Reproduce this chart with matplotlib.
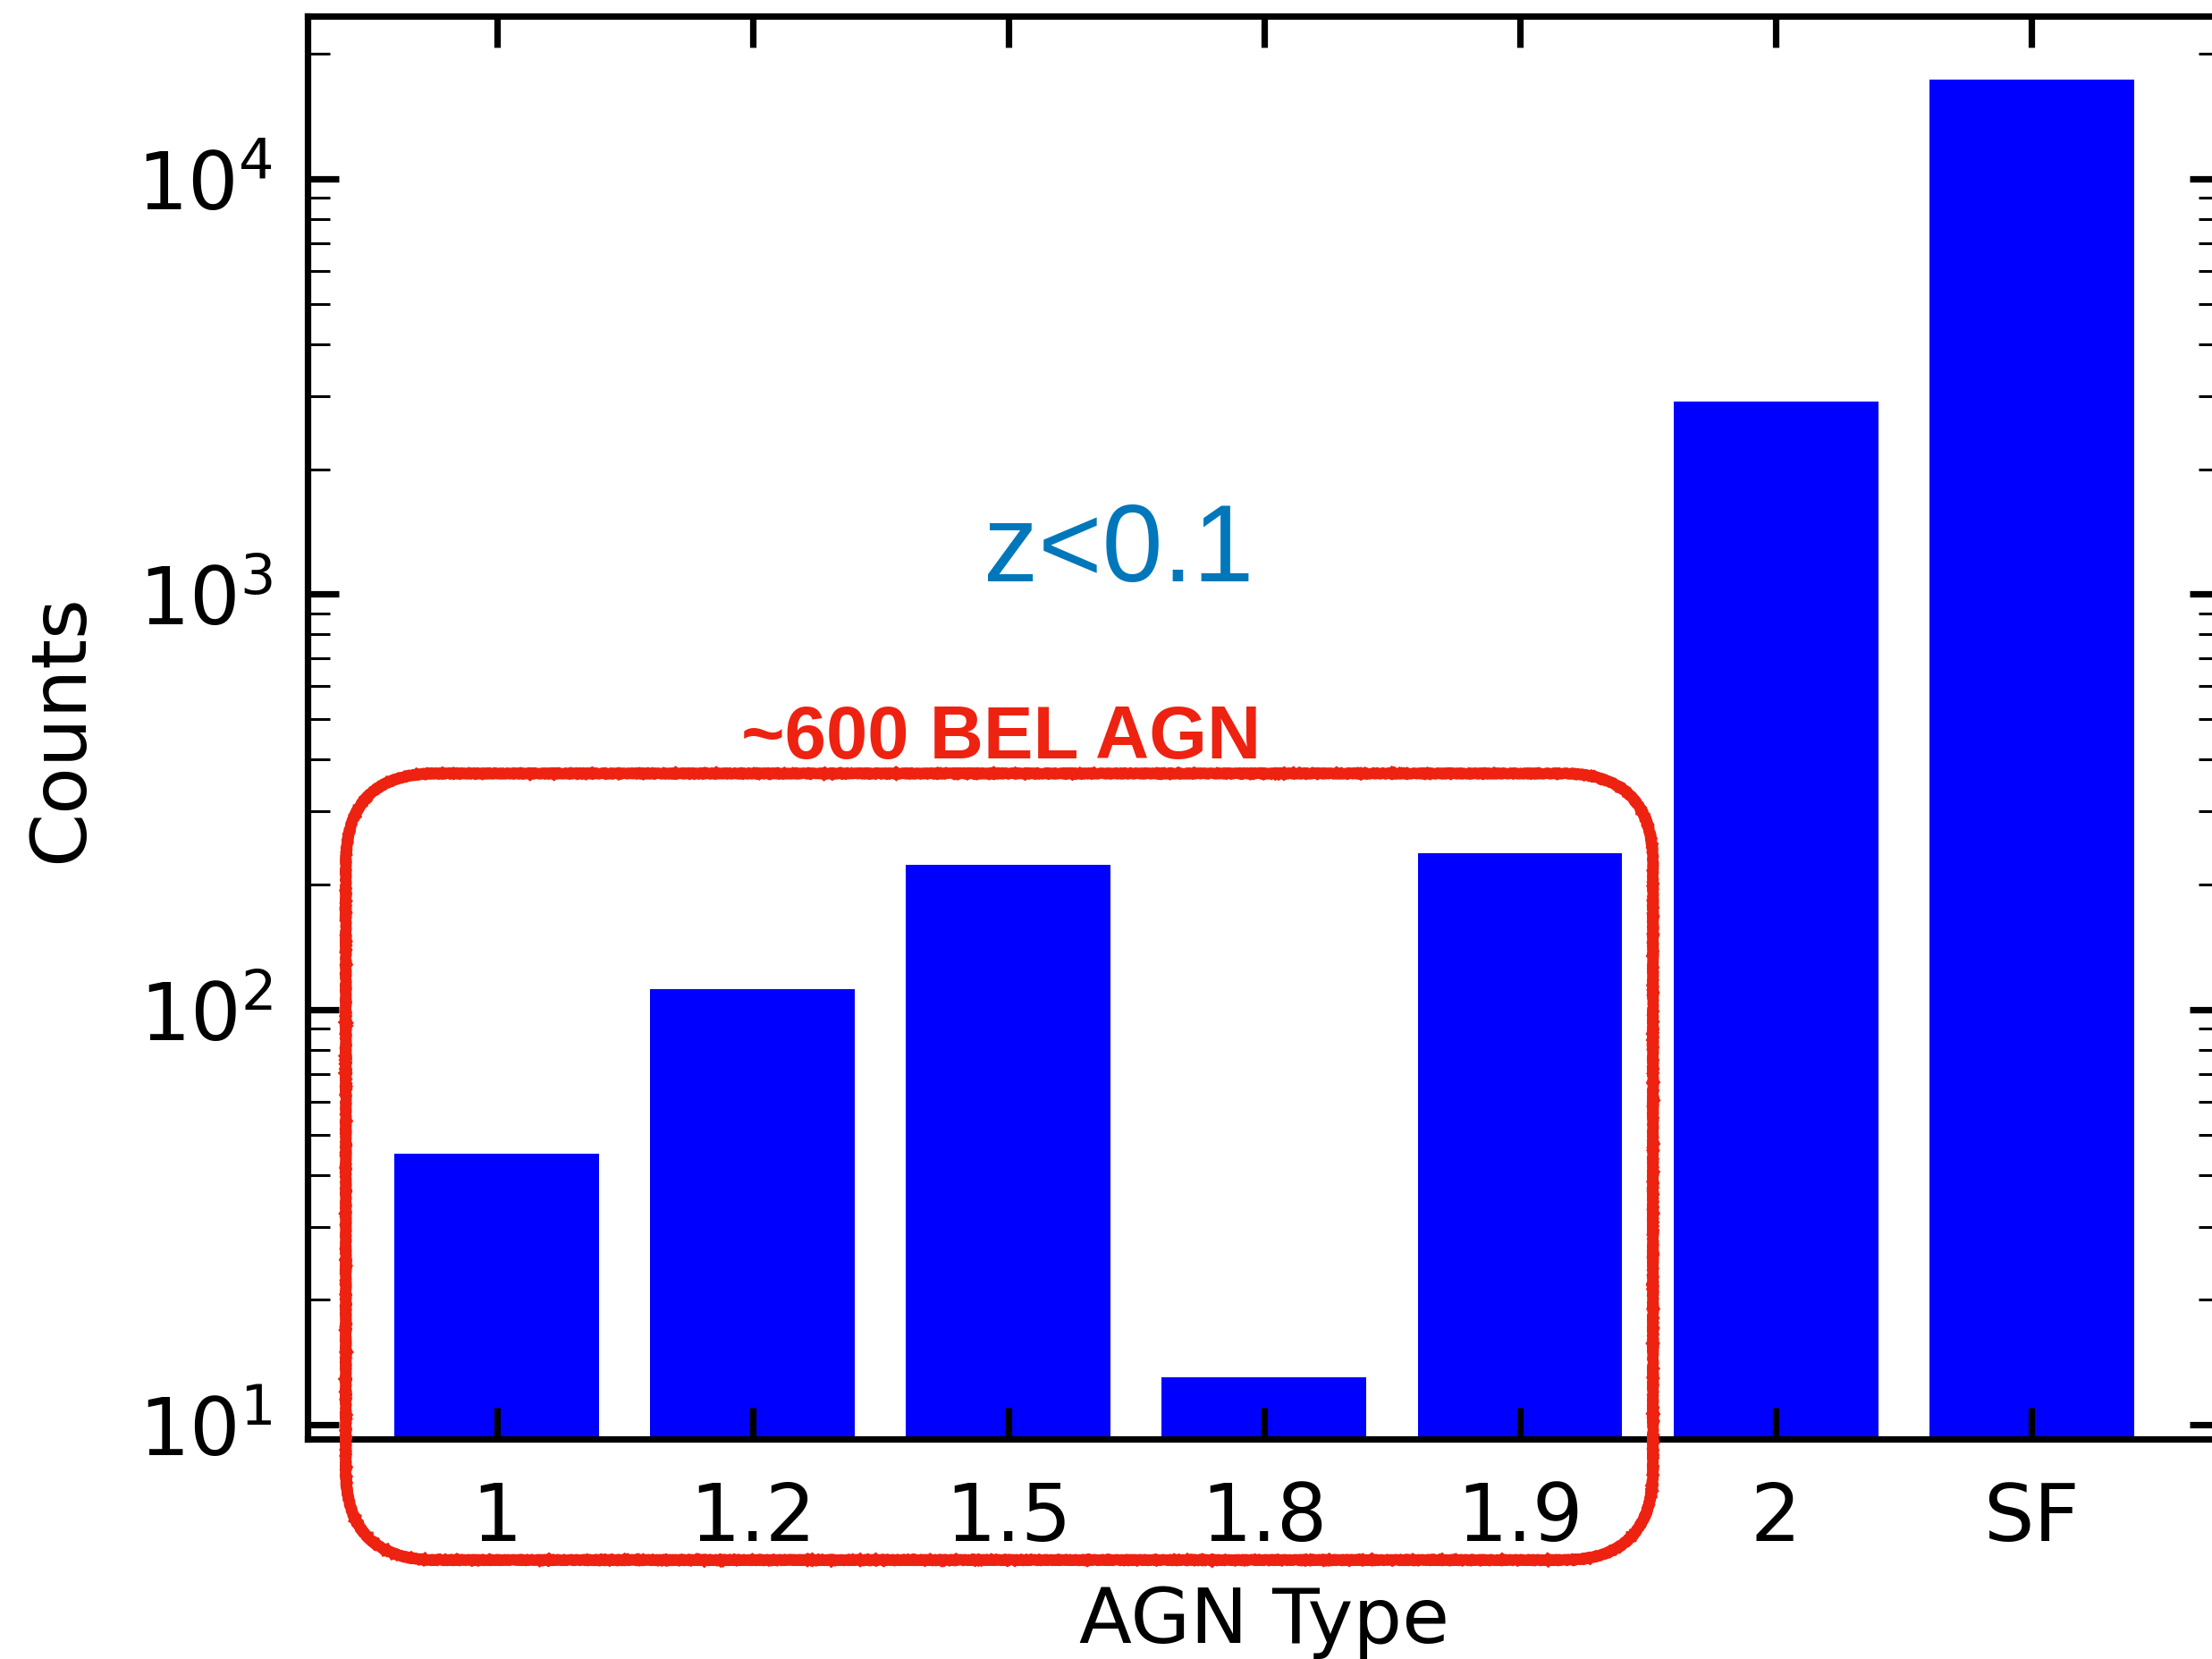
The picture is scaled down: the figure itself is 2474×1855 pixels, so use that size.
import matplotlib as mpl
mpl.use('Agg')
import matplotlib.pyplot as plt
from matplotlib.patches import FancyBboxPatch
import numpy as np

# data
agn_types = ['1', '1.2', '1.5', '1.8', '1.9', '2', 'SF']
counts = [45, 112, 223, 13, 238, 2905, 17340]
bel_types = ['1', '1.2', '1.5', '1.8', '1.9']

fig = plt.figure(figsize=(12.37, 9.28), dpi=200)
ax = fig.add_axes([0.139, 0.1325, 0.865, 0.8573])

x = np.arange(len(agn_types))
ax.bar(x, counts, width=0.8, color='#0000ff', log=True)
ax.set_yscale('log')
ax.set_xlim(-0.74, 6.74)
ax.set_ylim(9.24, 24660)

ax.set_xticks(x)
ax.set_xticklabels(agn_types)
ax.minorticks_on()
ax.xaxis.set_minor_locator(mpl.ticker.NullLocator())

for s in ax.spines.values():
    s.set_linewidth(2.6)
ax.tick_params(which='both', direction='in', top=True, right=True)
ax.tick_params(which='major', length=12.6, width=2.6, labelsize=32)
ax.tick_params(axis='y', which='major', pad=14)
ax.tick_params(axis='x', which='major', pad=16)
ax.tick_params(which='minor', length=9, width=1.1)

ax.set_xlabel('AGN Type', fontsize=31)
ax.set_ylabel('Counts', fontsize=31)
ax.xaxis.set_label_coords(0.5, -0.102)
ax.yaxis.set_label_coords(-0.109, 0.5)

ax.text(2.43, 1080, 'z<0.1', color='#0077bb', fontsize=44,
        family='Liberation Sans', ha='center', va='baseline')
ax.text(1.97, 405, '~%d BEL AGN' % 600, color='#ee2211', fontsize=30,
        family='Liberation Sans', weight='bold', ha='center', va='baseline')

# rounded hand-drawn box around the broad-line types, drawn in pixels
fig.canvas.draw()
i0 = agn_types.index(bel_types[0])
i1 = agn_types.index(bel_types[-1])
px0, py1 = ax.transData.transform((i0 - 0.59, 370))
px1, _ = ax.transData.transform((i1 + 0.52, 370))
_, py0 = ax.transAxes.transform((0, -0.085))
for lw, sk in [(4.5, (0.5, 6, 3)), (2.5, (0.9, 4, 2)), (1.5, (1.2, 3, 4))]:
    box = FancyBboxPatch((px0, py0), px1 - px0, py1 - py0,
                         boxstyle='round,pad=0,rounding_size=100',
                         transform=None, fill=False, edgecolor='#ee2211',
                         linewidth=lw, clip_on=False, zorder=5)
    box.set_sketch_params(*sk)
    fig.add_artist(box)

fig.savefig('out.png', dpi=200)
